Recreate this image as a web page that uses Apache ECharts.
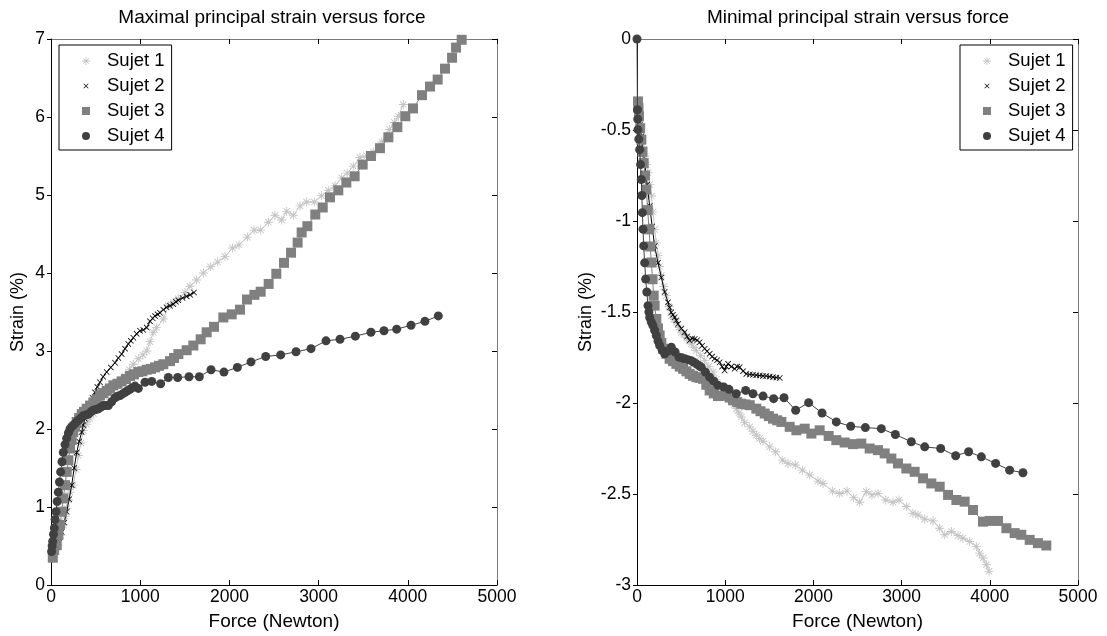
<!DOCTYPE html>
<html>
<head>
<meta charset="utf-8">
<script src="https://cdn.jsdelivr.net/npm/echarts@6/dist/echarts.min.js"></script>
<style>html,body{margin:0;padding:0;background:#fff;}#c{width:1107px;height:636px;}</style>
</head>
<body>
<div id="c"></div>
<script>
// ---- data: [force (N), strain (%)] ----
var seriesNames = ['Sujet 1', 'Sujet 2', 'Sujet 3', 'Sujet 4'];
var xTicks = [0, 1000, 2000, 3000, 4000, 5000];
var maxTicks = [0, 1, 2, 3, 4, 5, 6, 7];
var minTicks = [-3, -2.5, -2, -1.5, -1, -0.5, 0];

var maxS1 = [[45,0.39],[82,0.51],[110,0.64],[138,0.77],[158,0.88],[176,0.98],[195,1.09],[213,1.19],[250,1.28],[280,1.48],[306,1.66],[335,1.82],[362,1.98],[400,2.06],[437,2.13],[475,2.20],[512,2.26],[570,2.35],[624,2.43],[680,2.50],[736,2.56],[780,2.62],[830,2.68],[880,2.76],[923,2.83],[979,2.90],[1030,2.95],[1073,3.00],[1110,3.12],[1147,3.24],[1185,3.30],[1259,3.41],[1315,3.58],[1370,3.62],[1427,3.67],[1502,3.75],[1558,3.83],[1633,3.91],[1708,4.00],[1790,4.08],[1868,4.14],[1951,4.21],[2036,4.32],[2108,4.36],[2201,4.46],[2276,4.55],[2351,4.55],[2437,4.65],[2511,4.74],[2586,4.68],[2642,4.79],[2717,4.74],[2792,4.86],[2866,4.91],[2952,4.91],[3034,4.99],[3109,5.06],[3184,5.12],[3259,5.22],[3320,5.28],[3389,5.37],[3464,5.48],[3540,5.50],[3613,5.55],[3707,5.68],[3793,5.84],[3850,5.93],[3894,6.01],[3950,6.16]];
var maxS2 = [[26,0.34],[45,0.42],[64,0.51],[92,0.60],[120,0.68],[148,0.80],[176,0.94],[204,1.10],[232,1.28],[260,1.50],[288,1.70],[316,1.84],[344,1.96],[362,2.05],[381,2.13],[410,2.23],[437,2.32],[465,2.40],[493,2.47],[520,2.54],[549,2.60],[585,2.67],[624,2.73],[670,2.79],[718,2.85],[755,2.91],[792,2.96],[830,3.03],[867,3.09],[895,3.13],[923,3.17],[960,3.22],[998,3.26],[1035,3.27],[1073,3.30],[1110,3.38],[1140,3.42],[1166,3.45],[1195,3.47],[1222,3.49],[1259,3.53],[1295,3.56],[1334,3.58],[1371,3.60],[1400,3.63],[1427,3.65],[1475,3.68],[1521,3.70],[1560,3.72],[1603,3.75]];
var maxS3 = [[20,0.35],[35,0.45],[64,0.51],[82,0.64],[101,0.77],[120,0.94],[138,1.11],[157,1.28],[176,1.45],[195,1.60],[213,1.75],[232,1.86],[250,1.96],[270,2.03],[288,2.09],[315,2.14],[344,2.19],[370,2.22],[400,2.26],[438,2.30],[475,2.34],[512,2.38],[549,2.43],[586,2.46],[624,2.49],[660,2.52],[699,2.56],[745,2.58],[792,2.61],[840,2.64],[886,2.68],[930,2.70],[979,2.73],[1025,2.74],[1073,2.76],[1120,2.77],[1166,2.79],[1210,2.81],[1259,2.83],[1334,2.87],[1380,2.91],[1428,2.96],[1521,3.01],[1596,3.07],[1678,3.15],[1745,3.24],[1827,3.31],[1932,3.43],[2026,3.47],[2119,3.53],[2197,3.66],[2280,3.72],[2351,3.76],[2440,3.86],[2526,3.99],[2612,4.13],[2691,4.26],[2765,4.39],[2810,4.52],[2874,4.60],[2963,4.75],[3046,4.84],[3128,4.97],[3221,5.06],[3311,5.16],[3404,5.24],[3494,5.39],[3587,5.50],[3688,5.60],[3782,5.74],[3883,5.87],[3972,6.01],[4058,6.11],[4159,6.28],[4249,6.39],[4335,6.48],[4417,6.62],[4496,6.76],[4541,6.89],[4604,6.99]];
var maxS4 = [[7,0.43],[13,0.50],[19,0.56],[28,0.65],[37,0.73],[46,0.84],[56,0.94],[69,1.07],[82,1.19],[95,1.32],[108,1.45],[123,1.58],[138,1.70],[157,1.80],[176,1.88],[195,1.95],[213,2.00],[232,2.03],[250,2.05],[278,2.08],[306,2.11],[334,2.14],[362,2.17],[390,2.18],[419,2.19],[447,2.22],[475,2.24],[503,2.25],[531,2.26],[559,2.28],[587,2.30],[615,2.30],[643,2.30],[680,2.35],[718,2.40],[746,2.42],[774,2.43],[802,2.45],[830,2.47],[858,2.49],[886,2.51],[914,2.53],[942,2.55],[979,2.52],[1054,2.60],[1129,2.61],[1229,2.58],[1315,2.66],[1420,2.66],[1547,2.67],[1663,2.67],[1794,2.76],[1939,2.73],[2089,2.79],[2242,2.86],[2407,2.93],[2575,2.95],[2747,2.99],[2915,3.03],[3083,3.13],[3240,3.15],[3412,3.19],[3587,3.24],[3733,3.26],[3875,3.28],[4036,3.33],[4192,3.38],[4342,3.45]];

var minS1 = [[30,-0.425],[49,-0.535],[68,-0.59],[87,-0.644],[106,-0.69],[125,-0.735],[144,-0.80],[163,-0.863],[182,-0.95],[200,-1.046],[219,-1.12],[238,-1.19],[257,-1.25],[276,-1.30],[304,-1.36],[332,-1.41],[360,-1.47],[389,-1.52],[418,-1.54],[446,-1.557],[475,-1.585],[503,-1.611],[531,-1.625],[559,-1.639],[588,-1.657],[616,-1.675],[645,-1.694],[673,-1.712],[720,-1.74],[767,-1.766],[815,-1.80],[862,-1.830],[900,-1.87],[937,-1.903],[975,-1.92],[1013,-1.940],[1040,-1.96],[1069,-1.985],[1098,-2.01],[1126,-2.031],[1155,-2.055],[1183,-2.077],[1221,-2.108],[1278,-2.131],[1315,-2.155],[1353,-2.177],[1390,-2.195],[1429,-2.210],[1504,-2.241],[1572,-2.268],[1648,-2.314],[1712,-2.332],[1795,-2.341],[1875,-2.369],[1958,-2.396],[2052,-2.429],[2109,-2.442],[2215,-2.484],[2298,-2.497],[2381,-2.484],[2457,-2.520],[2525,-2.545],[2600,-2.487],[2664,-2.505],[2733,-2.497],[2820,-2.533],[2903,-2.545],[2971,-2.533],[3054,-2.569],[3129,-2.606],[3186,-2.615],[3262,-2.637],[3356,-2.648],[3432,-2.688],[3489,-2.724],[3564,-2.706],[3640,-2.728],[3696,-2.743],[3772,-2.761],[3847,-2.788],[3885,-2.825],[3923,-2.852],[3961,-2.889],[3991,-2.925]];
var minS2 = [[23,-0.41],[36,-0.47],[49,-0.535],[68,-0.61],[87,-0.681],[115,-0.80],[144,-0.918],[172,-1.03],[200,-1.137],[238,-1.23],[276,-1.31],[313,-1.39],[351,-1.447],[370,-1.475],[389,-1.502],[408,-1.515],[427,-1.529],[446,-1.545],[465,-1.566],[503,-1.59],[540,-1.611],[568,-1.635],[597,-1.657],[625,-1.645],[654,-1.648],[682,-1.655],[710,-1.666],[738,-1.685],[767,-1.702],[795,-1.715],[824,-1.730],[852,-1.745],[880,-1.757],[908,-1.765],[937,-1.776],[965,-1.80],[994,-1.821],[1013,-1.80],[1032,-1.785],[1070,-1.80],[1107,-1.812],[1135,-1.80],[1164,-1.803],[1202,-1.825],[1240,-1.840],[1278,-1.843],[1315,-1.845],[1353,-1.847],[1391,-1.849],[1428,-1.851],[1466,-1.852],[1504,-1.855],[1542,-1.858],[1580,-1.86],[1618,-1.863]];
var minS3 = [[11,-0.343],[17,-0.38],[23,-0.425],[36,-0.49],[49,-0.553],[62,-0.62],[76,-0.681],[91,-0.75],[106,-0.827],[121,-0.94],[136,-1.046],[150,-1.14],[163,-1.228],[176,-1.32],[189,-1.41],[200,-1.465],[219,-1.538],[238,-1.59],[257,-1.629],[276,-1.67],[295,-1.702],[333,-1.73],[370,-1.757],[408,-1.77],[446,-1.785],[484,-1.80],[522,-1.812],[560,-1.826],[597,-1.840],[635,-1.85],[673,-1.858],[710,-1.862],[748,-1.867],[786,-1.90],[824,-1.931],[871,-1.947],[918,-1.962],[965,-1.96],[1013,-1.958],[1050,-1.97],[1089,-1.985],[1136,-1.995],[1183,-2.004],[1230,-2.008],[1278,-2.012],[1353,-2.031],[1400,-2.045],[1448,-2.058],[1495,-2.072],[1542,-2.086],[1590,-2.095],[1637,-2.104],[1731,-2.131],[1807,-2.150],[1901,-2.141],[1977,-2.168],[2071,-2.150],[2173,-2.181],[2260,-2.204],[2354,-2.217],[2449,-2.226],[2543,-2.223],[2638,-2.250],[2732,-2.259],[2808,-2.277],[2884,-2.305],[2959,-2.332],[3054,-2.360],[3148,-2.378],[3243,-2.414],[3337,-2.442],[3432,-2.460],[3527,-2.505],[3621,-2.533],[3715,-2.542],[3810,-2.588],[3923,-2.652],[3999,-2.648],[4093,-2.648],[4188,-2.688],[4282,-2.715],[4357,-2.724],[4452,-2.752],[4546,-2.770],[4641,-2.783]];
var minS4 = [[0,0],[5,-0.389],[8,-0.44],[11,-0.498],[20,-0.55],[30,-0.608],[40,-0.69],[49,-0.772],[55,-0.86],[61,-0.954],[68,-1.045],[76,-1.137],[87,-1.23],[98,-1.319],[111,-1.39],[125,-1.465],[135,-1.50],[144,-1.53],[162,-1.555],[181,-1.575],[200,-1.60],[219,-1.629],[238,-1.66],[257,-1.684],[286,-1.71],[314,-1.730],[350,-1.715],[389,-1.693],[432,-1.72],[476,-1.748],[508,-1.752],[540,-1.757],[574,-1.762],[608,-1.766],[640,-1.775],[673,-1.785],[701,-1.794],[729,-1.803],[776,-1.83],[824,-1.858],[871,-1.88],[918,-1.903],[983,-1.912],[1043,-1.925],[1126,-1.949],[1232,-1.931],[1315,-1.949],[1429,-1.962],[1549,-1.976],[1667,-1.971],[1799,-2.040],[1946,-1.998],[2098,-2.055],[2260,-2.104],[2423,-2.128],[2589,-2.135],[2770,-2.141],[2929,-2.173],[3110,-2.213],[3262,-2.241],[3443,-2.250],[3613,-2.290],[3760,-2.268],[3904,-2.296],[4066,-2.332],[4225,-2.369],[4376,-2.383]];

// ---- styles ----
var FONT = '"Liberation Sans", Arial, sans-serif';
var colors = ['#c4c4c4', '#000000', '#808080', '#404040'];
var ASTER = 'path://M4.5,0 L5.5,0 L5.5,10 L4.5,10 Z M0,4.5 L10,4.5 L10,5.5 L0,5.5 Z M1.8,1.1 L8.9,8.2 L8.2,8.9 L1.1,1.8 Z M8.2,1.1 L8.9,1.8 L1.8,8.9 L1.1,8.2 Z';
var XMARK = 'path://M0,0.9 L0.9,0 L5,4.1 L9.1,0 L10,0.9 L5.9,5 L10,9.1 L9.1,10 L5,5.9 L0.9,10 L0,9.1 L4.1,5 Z';
var XLEG = 'path://M-3,-3 L-2.95,-3 L-3,-2.95 Z M13,13 L12.95,13 L13,12.95 Z M0,0.9 L0.9,0 L5,4.1 L9.1,0 L10,0.9 L5.9,5 L10,9.1 L9.1,10 L5,5.9 L0.9,10 L0,9.1 L4.1,5 Z';
var symbols = [ASTER, XMARK, 'rect', 'circle'];
var legendIcons = [ASTER, XLEG, 'rect', 'circle'];
var symSizes = [9, 6, 10, 9];

function makeSeries(data, i, axisIdx) {
  return {
    name: seriesNames[i], type: 'line', data: data,
    xAxisIndex: axisIdx, yAxisIndex: axisIdx,
    symbol: symbols[i], symbolSize: symSizes[i], showSymbol: true, showAllSymbol: true,
    clip: false, z: 2 + i,
    lineStyle: { color: colors[i], width: 1 },
    itemStyle: { color: colors[i], borderWidth: 0 },
    emphasis: { disabled: true }
  };
}

function xAx(grid, pos, show) {
  return {
    type: 'value', gridIndex: grid, position: pos, min: 0, max: 5000, interval: 1000,
    axisLine: { show: true, onZero: false, lineStyle: { color: pos === 'bottom' ? '#000' : '#7a7a7a', width: 1 } },
    axisTick: { show: true, inside: true, length: 5, lineStyle: { color: '#000' } },
    axisLabel: { show: show, margin: 3, fontSize: 17.5, color: '#000', fontFamily: FONT, showMinLabel: true, showMaxLabel: true,
      formatter: function (v) { return String(v); } },
    splitLine: { show: false },
    name: show ? 'Force (Newton)' : '', nameLocation: 'middle', nameGap: 27,
    nameTextStyle: { fontSize: 19, color: '#000', fontFamily: FONT }
  };
}
function yAx(grid, pos, show, mn, mx, itv, nameGap) {
  return {
    type: 'value', gridIndex: grid, position: pos, min: mn, max: mx, interval: itv,
    axisLine: { show: true, onZero: false, lineStyle: { color: pos === 'left' ? '#000' : '#7a7a7a', width: 1 } },
    axisTick: { show: true, inside: pos !== 'left', length: pos === 'left' ? 4 : 5, lineStyle: { color: '#000' } },
    axisLabel: { show: show, margin: 6, fontSize: 17.5, color: '#000', fontFamily: FONT, showMinLabel: true, showMaxLabel: true,
      formatter: function (v) { return String(v); } },
    splitLine: { show: false },
    name: show ? 'Strain (%)' : '', nameLocation: 'middle', nameGap: nameGap,
    nameTextStyle: { fontSize: 18, color: '#000', fontFamily: FONT }
  };
}
function legendAt(left) {
  return {
    left: left, top: 45, orient: 'vertical',
    backgroundColor: '#fff', borderColor: '#000', borderWidth: 1,
    padding: [6, 7, 4, 23], itemGap: 5, itemWidth: 8, itemHeight: 8,
    selectedMode: false,
    textStyle: { fontSize: 18.5, color: '#000', fontFamily: FONT, lineHeight: 20, padding: [0, 0, 0, 12] },
    data: seriesNames.map(function (n, i) { return { name: n, icon: legendIcons[i] }; })
  };
}

var option = {
  animation: false,
  backgroundColor: '#fff',
  title: [
    { text: 'Maximal principal strain versus force', left: 272, top: 8, textAlign: 'center', padding: 0,
      textStyle: { fontSize: 19, fontWeight: 'normal', color: '#000', fontFamily: FONT } },
    { text: 'Minimal principal strain versus force', left: 858, top: 8, textAlign: 'center', padding: 0,
      textStyle: { fontSize: 19, fontWeight: 'normal', color: '#000', fontFamily: FONT } }
  ],
  grid: [
    { left: 51, top: 39, width: 446, height: 548 },
    { left: 637, top: 39, width: 441, height: 548 }
  ],
  legend: [legendAt(59), legendAt(960)],
  xAxis: [xAx(0, 'bottom', true), xAx(0, 'top', false), xAx(1, 'bottom', true), xAx(1, 'top', false)],
  yAxis: [
    yAx(0, 'left', true, 0, 7, 1, 24), yAx(0, 'right', false, 0, 7, 1, 0),
    yAx(1, 'left', true, -3, 0, 0.5, 42), yAx(1, 'right', false, -3, 0, 0.5, 0)
  ],
  series: [
    makeSeries(maxS1, 0, 0), makeSeries(maxS2, 1, 0), makeSeries(maxS3, 2, 0), makeSeries(maxS4, 3, 0),
    makeSeries(minS1, 0, 2), makeSeries(minS2, 1, 2), makeSeries(minS3, 2, 2), makeSeries(minS4, 3, 2)
  ]
};
var chart = echarts.init(document.getElementById('c'), null, { renderer: 'canvas' });
chart.setOption(option);
</script>
</body>
</html>
